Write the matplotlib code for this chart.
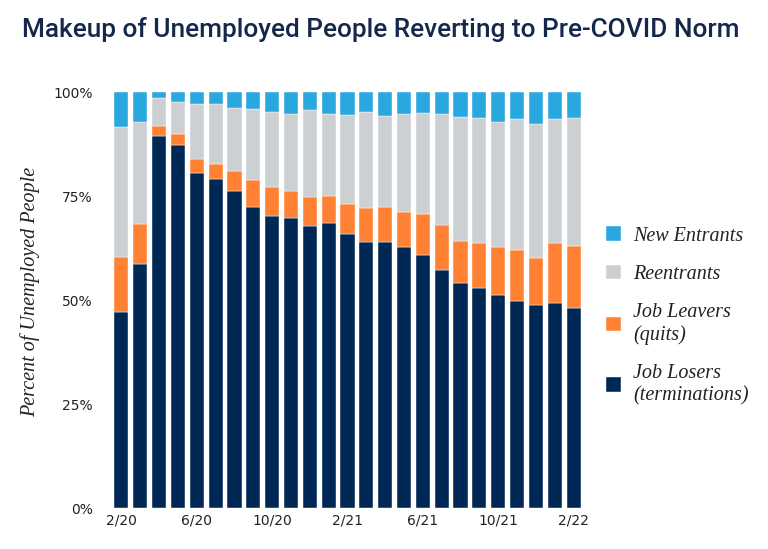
import matplotlib

matplotlib.use("Agg")
import matplotlib.pyplot as plt
import numpy as np

# monthly shares of unemployed people, Feb 2020 .. Feb 2022 (percent)
months = ["2/20", "3/20", "4/20", "5/20", "6/20", "7/20", "8/20", "9/20", "10/20",
          "11/20", "12/20", "1/21", "2/21", "3/21", "4/21", "5/21", "6/21", "7/21",
          "8/21", "9/21", "10/21", "11/21", "12/21", "1/22", "2/22"]
job_losers = [47.1, 58.7, 89.4, 87.3, 80.6, 79.2, 76.2, 72.4, 70.3, 69.8, 67.9, 68.6,
              65.9, 64.0, 64.0, 62.7, 60.8, 57.2, 54.2, 53.0, 51.1, 49.7, 48.8, 49.2, 48.0]
job_leavers = [13.2, 9.6, 2.4, 2.6, 3.4, 3.6, 4.8, 6.4, 6.9, 6.4, 6.9, 6.4,
               7.2, 8.1, 8.4, 8.5, 9.9, 10.9, 10.1, 10.6, 11.6, 12.2, 11.2, 14.6, 15.1]
reentrants = [31.3, 24.5, 6.7, 7.8, 13.0, 14.2, 15.1, 17.0, 18.1, 18.4, 20.8, 19.6,
              21.4, 23.0, 21.8, 23.4, 24.2, 26.5, 29.6, 30.1, 30.0, 31.5, 32.2, 29.6, 30.6]
new_entrants = [8.4, 7.2, 1.5, 2.3, 3.0, 3.0, 3.9, 4.2, 4.7, 5.4, 4.4, 5.4,
                5.5, 4.9, 5.8, 5.4, 5.1, 5.4, 6.1, 6.3, 7.3, 6.6, 7.8, 6.6, 6.3]
tick_labels = ["2/20", "6/20", "10/20", "2/21", "6/21", "10/21", "2/22"]
y_ticks = [0, 25, 50, 75, 100]

NAVY = "#002855"
ORANGE = "#FF8133"
GREY = "#CDD0D3"
BLUE = "#29A8E0"

fig = plt.figure(figsize=(7.68, 5.49), dpi=100)
ax = fig.add_axes([112 / 768, 1 - 508 / 549, (583 - 112) / 768, (508 - 92) / 549])

x = np.arange(len(months))
series = [("Job Losers\n(terminations)", job_losers, NAVY),
          ("Job Leavers\n(quits)", job_leavers, ORANGE),
          ("Reentrants", reentrants, GREY),
          ("New Entrants", new_entrants, BLUE)]
bottom = np.zeros(len(months))
handles = []
for label, vals, color in series:
    vals = np.asarray(vals)
    h = ax.bar(x, vals, bottom=bottom, width=0.75, color=color, label=label,
               edgecolor="white", linewidth=0.3)
    handles.append(h)
    bottom += vals

ax.set_xlim(-0.5, len(months) - 0.5)
ax.set_ylim(0, 100)
ax.set_xticks([months.index(t) for t in tick_labels])
ax.set_xticklabels(tick_labels, fontsize=10, color="#222222")
ax.set_yticks(y_ticks)
ax.set_yticklabels([f"{v}%" for v in y_ticks], fontsize=10, color="#222222")
ax.tick_params(length=0, pad=4)
ax.tick_params(axis="y", pad=14)
for s in ax.spines.values():
    s.set_visible(False)

fig.text(30 / 768, 1 - 292 / 549, "Percent of Unemployed People", rotation=90,
         ha="center", va="center", fontsize=14.5, style="italic",
         family="Liberation Serif", color="#222222")

leg = fig.legend(handles[::-1], [h.get_label() for h in handles[::-1]],
                 loc="upper left", bbox_to_anchor=(588 / 768, 1 - 208 / 549),
                 frameon=False, handlelength=0.75, handleheight=0.75,
                 labelspacing=0.95, handletextpad=0.6,
                 prop={"family": "Liberation Serif", "style": "italic", "size": 14.5})
for t in leg.get_texts():
    t.set_color("#222222")

fig.text(22 / 768, 1 - 30 / 549, "Makeup of Unemployed People Reverting to Pre-COVID Norm",
         ha="left", va="center", fontsize=18.9, color="#14284B", weight="medium",
         family=["Roboto", "DejaVu Sans"])

fig.savefig("out.png", dpi=100)
